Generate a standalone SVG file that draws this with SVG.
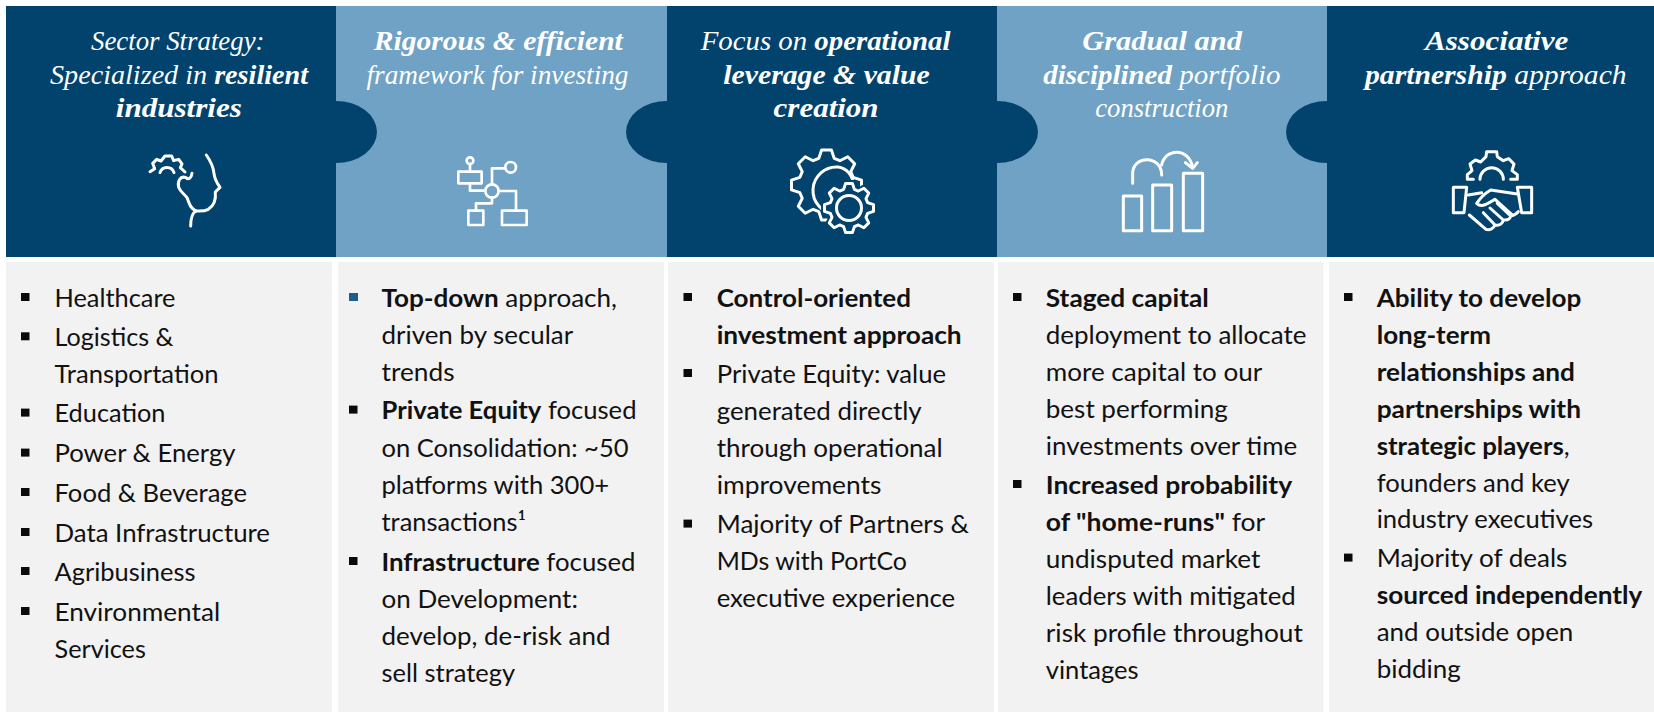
<svg xmlns="http://www.w3.org/2000/svg" xmlns:xlink="http://www.w3.org/1999/xlink" width="1654" height="716" viewBox="0 0 1654 716">
<style>
.dark{fill:#02436e}
.light{fill:#6fa2c4}
.panel{fill:#f2f2f2}
.h{font-family:"Liberation Serif",serif;font-size:28px;font-style:italic;fill:#fff}
.b{font-family:Lato,"Liberation Sans",sans-serif;font-size:25px;fill:#111}
.s{font-weight:700}
.bu{fill:#0a0a0a}
.ic{fill:none;stroke:#fff;stroke-linecap:round;stroke-linejoin:round}
</style>
<defs>
<polygon id="gear" points="76,-22 100,-14 100,14 76,22 69.3,38.2 80.6,60.8 60.8,80.6 38.2,69.3 22,76 14,100 -14,100 -22,76 -38.2,69.3 -60.8,80.6 -80.6,60.8 -69.3,38.2 -76,22 -100,14 -100,-14 -76,-22 -69.3,-38.2 -80.6,-60.8 -60.8,-80.6 -38.2,-69.3 -22,-76 -14,-100 14,-100 22,-76 38.2,-69.3 60.8,-80.6 80.6,-60.8 69.3,-38.2"/>
<rect id="sq" class="bu" width="8.5" height="8"/>
</defs>
<rect width="1654" height="716" fill="#fff"/>

<g id="col2">
<rect class="light" x="336" y="6" width="331" height="251"/>
<rect class="panel" x="338" y="262" width="326" height="450"/>
<text class="h" y="50" x="373.8" textLength="249" lengthAdjust="spacingAndGlyphs"><tspan class="s">Rigorous &amp; efficient</tspan></text>
<text class="h" y="83.5" x="366.5" textLength="262" lengthAdjust="spacingAndGlyphs">framework for investing</text>
<g class="ic" stroke-width="8" transform="translate(440 140) scale(.3333)">
<circle cx="90" cy="62" r="10"/><path d="M90 72V95"/><rect x="55" y="95" width="70" height="35"/>
<path d="M90 130V152H135"/><circle cx="156" cy="153" r="20"/><path d="M156 133V85H195"/><circle cx="212" cy="82" r="16"/>
<path d="M176 153H228V212"/><rect x="186" y="212" width="74" height="43"/><rect x="85" y="212" width="45" height="43"/><path d="M108 212V190H156V173"/>
</g>
<rect x="349" y="293" width="9" height="8" fill="#1a5f8c"/>
<use xlink:href="#sq" href="#sq" x="349" y="405.6"/><use xlink:href="#sq" href="#sq" x="349" y="557"/>
<text class="b" x="381.5" y="306.7" textLength="235.5" lengthAdjust="spacingAndGlyphs"><tspan class="s">Top-down</tspan> approach,</text>
<text class="b" x="381.5" y="343.7" textLength="191.7" lengthAdjust="spacingAndGlyphs">driven by secular</text>
<text class="b" x="381.5" y="380.7" textLength="73" lengthAdjust="spacingAndGlyphs">trends</text>
<text class="b" x="381.5" y="419.3" textLength="255" lengthAdjust="spacingAndGlyphs"><tspan class="s">Private Equity</tspan> focused</text>
<text class="b" x="381.5" y="456.7" textLength="247" lengthAdjust="spacingAndGlyphs">on Consolidation: ~50</text>
<text class="b" x="381.5" y="493.7" textLength="227.6" lengthAdjust="spacingAndGlyphs">platforms with 300+</text>
<text class="b" x="381.5" y="530.7" textLength="144.4" lengthAdjust="spacingAndGlyphs">transactions¹</text>
<text class="b" x="381.5" y="570.7" textLength="254" lengthAdjust="spacingAndGlyphs"><tspan class="s">Infrastructure</tspan> focused</text>
<text class="b" x="381.5" y="607.7" textLength="196.4" lengthAdjust="spacingAndGlyphs">on Development:</text>
<text class="b" x="381.5" y="644.7" textLength="229" lengthAdjust="spacingAndGlyphs">develop, de-risk and</text>
<text class="b" x="381.5" y="681.7" textLength="133.6" lengthAdjust="spacingAndGlyphs">sell strategy</text>
</g>

<g id="col4">
<rect class="light" x="997" y="6" width="330" height="251"/>
<rect class="panel" x="998" y="262" width="325.5" height="450"/>
<text class="h" y="50" x="1082.3" textLength="159.6" lengthAdjust="spacingAndGlyphs"><tspan class="s">Gradual and</tspan></text>
<text class="h" y="83.5" x="1043.3" textLength="237.2" lengthAdjust="spacingAndGlyphs"><tspan class="s">disciplined</tspan> portfolio</text>
<text class="h" y="117" x="1095.3" textLength="133.1" lengthAdjust="spacingAndGlyphs">construction</text>
<g class="ic" stroke-width="9" transform="translate(1110 140) scale(.3333)">
<rect x="40" y="168" width="55" height="104"/><rect x="128" y="135" width="57" height="137"/><rect x="220" y="100" width="58" height="172"/>
<path d="M68 130V100C68 45 155 45 155 105"/><path d="M155 75C165 25 235 20 248 82"/><path d="M226 68L248 85L262 68"/>
</g>
<use xlink:href="#sq" href="#sq" x="1013" y="293"/><use xlink:href="#sq" href="#sq" x="1013" y="480"/>
<text class="b" x="1045.8" y="306.7" textLength="163" lengthAdjust="spacingAndGlyphs"><tspan class="s">Staged capital</tspan></text>
<text class="b" x="1045.8" y="343.7" textLength="260.6" lengthAdjust="spacingAndGlyphs">deployment to allocate</text>
<text class="b" x="1045.8" y="380.7" textLength="216.4" lengthAdjust="spacingAndGlyphs">more capital to our</text>
<text class="b" x="1045.8" y="417.7" textLength="182" lengthAdjust="spacingAndGlyphs">best performing</text>
<text class="b" x="1045.8" y="454.7" textLength="251.5" lengthAdjust="spacingAndGlyphs">investments over time</text>
<text class="b" x="1045.8" y="493.7" textLength="246.3" lengthAdjust="spacingAndGlyphs"><tspan class="s">Increased probability</tspan></text>
<text class="b" x="1045.8" y="530.7" textLength="219.4" lengthAdjust="spacingAndGlyphs"><tspan class="s">of "home-runs"</tspan> for</text>
<text class="b" x="1045.8" y="567.7" textLength="214.6" lengthAdjust="spacingAndGlyphs">undisputed market</text>
<text class="b" x="1045.8" y="604.7" textLength="250" lengthAdjust="spacingAndGlyphs">leaders with mitigated</text>
<text class="b" x="1045.8" y="641.7" textLength="257" lengthAdjust="spacingAndGlyphs">risk profile throughout</text>
<text class="b" x="1045.8" y="678.7" textLength="92.8" lengthAdjust="spacingAndGlyphs">vintages</text>
</g>

<g id="col1">
<path class="dark" d="M6 6H336V101A41 31 0 0 1 336 163V257H6Z"/>
<rect class="panel" x="6" y="262" width="326" height="450"/>
<text class="h" y="50" x="91" textLength="173.5" lengthAdjust="spacingAndGlyphs">Sector Strategy:</text>
<text class="h" y="83.5" x="50" textLength="258" lengthAdjust="spacingAndGlyphs">Specialized in <tspan class="s">resilient</tspan></text>
<text class="h" y="117" x="115.8" textLength="126" lengthAdjust="spacingAndGlyphs"><tspan class="s">industries</tspan></text>
<g class="ic" stroke-width="9" transform="translate(130 130) scale(.3333)">
<path d="M229 75C243 95 250 110 252 130C254 150 262 160 270 172L256 186C258 205 255 225 235 238C222 245 208 243 198 243C185 250 182 265 182 288"/>
<path d="M186 130C184 145 175 150 168 143C150 136 142 155 146 172C152 188 165 192 172 205C178 220 180 235 198 243"/>
<path d="M60 125L74 116L68 100L80 88L93 93L105 78H125L131 92L146 88L156 102L151 113L165 126"/>
<path d="M90 128A22 22 0 0 1 132 128"/>
</g>
<use xlink:href="#sq" href="#sq" x="21" y="293"/><use xlink:href="#sq" href="#sq" x="21" y="332.3"/><use xlink:href="#sq" href="#sq" x="21" y="408.6"/><use xlink:href="#sq" href="#sq" x="21" y="448.6"/><use xlink:href="#sq" href="#sq" x="21" y="488"/><use xlink:href="#sq" href="#sq" x="21" y="528"/><use xlink:href="#sq" href="#sq" x="21" y="567"/><use xlink:href="#sq" href="#sq" x="21" y="607"/>
<text class="b" x="54.5" y="306.7" textLength="121" lengthAdjust="spacingAndGlyphs">Healthcare</text>
<text class="b" x="54.5" y="346" textLength="119" lengthAdjust="spacingAndGlyphs">Logistics &amp;</text>
<text class="b" x="54.5" y="382.7" textLength="164" lengthAdjust="spacingAndGlyphs">Transportation</text>
<text class="b" x="54.5" y="422.3" textLength="111" lengthAdjust="spacingAndGlyphs">Education</text>
<text class="b" x="54.5" y="462.3" textLength="181" lengthAdjust="spacingAndGlyphs">Power &amp; Energy</text>
<text class="b" x="54.5" y="501.7" textLength="192.5" lengthAdjust="spacingAndGlyphs">Food &amp; Beverage</text>
<text class="b" x="54.5" y="541.7" textLength="215.5" lengthAdjust="spacingAndGlyphs">Data Infrastructure</text>
<text class="b" x="54.5" y="580.7" textLength="141" lengthAdjust="spacingAndGlyphs">Agribusiness</text>
<text class="b" x="54.5" y="620.7" textLength="165.6" lengthAdjust="spacingAndGlyphs">Environmental</text>
<text class="b" x="54.5" y="657.7" textLength="91.4" lengthAdjust="spacingAndGlyphs">Services</text>
</g>

<g id="col3">
<path class="dark" d="M667 6H997V101A41 31 0 0 1 997 163V257H667V163A41 31 0 0 1 667 101Z"/>
<rect class="panel" x="668" y="262" width="326" height="450"/>
<text class="h" y="50" x="700.7" textLength="249.8" lengthAdjust="spacingAndGlyphs">Focus on <tspan class="s">operational</tspan></text>
<text class="h" y="83.5" x="723.3" textLength="206.4" lengthAdjust="spacingAndGlyphs"><tspan class="s">leverage &amp; value</tspan></text>
<text class="h" y="117" x="773.6" textLength="105" lengthAdjust="spacingAndGlyphs"><tspan class="s">creation</tspan></text>
<g id="gears">
<use xlink:href="#gear" href="#gear" transform="translate(826.5 185) scale(.35)" fill="none" stroke="#fff" stroke-width="8.5" stroke-linejoin="round"/>
<path class="ic" stroke-width="3" d="M835 214A17 17 0 0 1 838 167A17 17 0 0 1 853 184"/>
<use xlink:href="#gear" href="#gear" transform="translate(849 208) scale(.245)" fill="#02436e" stroke="#02436e" stroke-width="28"/>
<use xlink:href="#gear" href="#gear" transform="translate(849 208) scale(.245)" fill="#02436e" stroke="#fff" stroke-width="12" stroke-linejoin="round"/>
<circle class="ic" cx="849" cy="208" r="12.5" stroke-width="3"/>
</g>
<use xlink:href="#sq" href="#sq" x="683.5" y="293"/><use xlink:href="#sq" href="#sq" x="683.5" y="369"/><use xlink:href="#sq" href="#sq" x="683.5" y="519.6"/>
<text class="b" x="716.7" y="306.7" textLength="194.3" lengthAdjust="spacingAndGlyphs"><tspan class="s">Control-oriented</tspan></text>
<text class="b" x="716.7" y="343.7" textLength="245" lengthAdjust="spacingAndGlyphs"><tspan class="s">investment approach</tspan></text>
<text class="b" x="716.7" y="382.7" textLength="229.4" lengthAdjust="spacingAndGlyphs">Private Equity: value</text>
<text class="b" x="716.7" y="419.7" textLength="205" lengthAdjust="spacingAndGlyphs">generated directly</text>
<text class="b" x="716.7" y="456.7" textLength="226" lengthAdjust="spacingAndGlyphs">through operational</text>
<text class="b" x="716.7" y="493.7" textLength="164.8" lengthAdjust="spacingAndGlyphs">improvements</text>
<text class="b" x="716.7" y="533.3" textLength="252.4" lengthAdjust="spacingAndGlyphs">Majority of Partners &amp;</text>
<text class="b" x="716.7" y="570.3" textLength="190.3" lengthAdjust="spacingAndGlyphs">MDs with PortCo</text>
<text class="b" x="716.7" y="607.3" textLength="238.5" lengthAdjust="spacingAndGlyphs">executive experience</text>
</g>

<g id="col5">
<path class="dark" d="M1327 6H1654V257H1327V163A41 31 0 0 1 1327 101Z"/>
<rect class="panel" x="1329" y="262" width="325" height="450"/>
<text class="h" y="50" x="1425" textLength="143.3" lengthAdjust="spacingAndGlyphs"><tspan class="s">Associative</tspan></text>
<text class="h" y="83.5" x="1365" textLength="261.7" lengthAdjust="spacingAndGlyphs"><tspan class="s">partnership</tspan> approach</text>
<g class="ic" stroke-width="9" transform="translate(1440 140) scale(.3333)">
<path d="M100 118H82V104L96 92L90 72L106 60L122 66L138 50L140 35H170L172 50L190 62L206 56L222 72L216 92L232 104V118H212"/>
<path d="M120 118A35 35 0 0 1 190 118"/>
<path d="M40 142H80L72 218H40Z"/><path d="M232 142H275V218H245Z"/>
<path d="M85 165L125 158M232 162L152 150C135 160 120 175 110 190C125 205 145 190 165 178L218 226"/>
<path d="M88 225L138 268C150 272 160 265 165 255L130 218M165 255C180 258 188 250 190 240L150 204M190 240C205 242 212 235 212 228L172 190M212 228C222 226 230 222 235 215"/>
</g>
<use xlink:href="#sq" href="#sq" x="1344" y="293"/><use xlink:href="#sq" href="#sq" x="1344" y="553.6"/>
<text class="b" x="1376.7" y="306.7" textLength="204.6" lengthAdjust="spacingAndGlyphs"><tspan class="s">Ability to develop</tspan></text>
<text class="b" x="1376.7" y="343.7" textLength="114.3" lengthAdjust="spacingAndGlyphs"><tspan class="s">long-term</tspan></text>
<text class="b" x="1376.7" y="380.7" textLength="198.3" lengthAdjust="spacingAndGlyphs"><tspan class="s">relationships and</tspan></text>
<text class="b" x="1376.7" y="417.7" textLength="204.3" lengthAdjust="spacingAndGlyphs"><tspan class="s">partnerships with</tspan></text>
<text class="b" x="1376.7" y="454.7" textLength="193" lengthAdjust="spacingAndGlyphs"><tspan class="s">strategic players</tspan>,</text>
<text class="b" x="1376.7" y="491.7" textLength="193" lengthAdjust="spacingAndGlyphs">founders and key</text>
<text class="b" x="1376.7" y="527.7" textLength="216.3" lengthAdjust="spacingAndGlyphs">industry executives</text>
<text class="b" x="1376.7" y="567.3" textLength="190.7" lengthAdjust="spacingAndGlyphs">Majority of deals</text>
<text class="b" x="1376.7" y="604.3" textLength="265.6" lengthAdjust="spacingAndGlyphs"><tspan class="s">sourced independently</tspan></text>
<text class="b" x="1376.7" y="641.3" textLength="196.6" lengthAdjust="spacingAndGlyphs">and outside open</text>
<text class="b" x="1376.7" y="678.3" textLength="84" lengthAdjust="spacingAndGlyphs">bidding</text>
</g>
</svg>
